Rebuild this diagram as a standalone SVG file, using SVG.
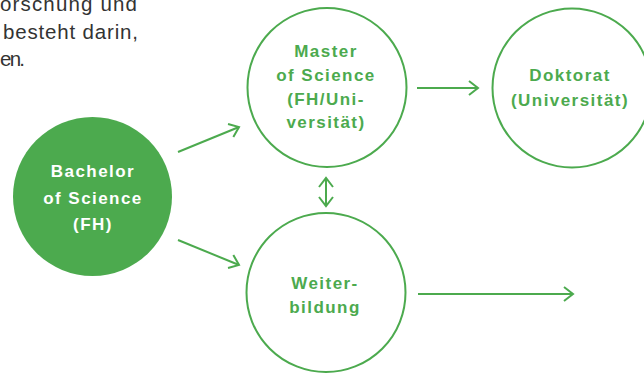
<svg xmlns="http://www.w3.org/2000/svg" width="644" height="373" viewBox="0 0 644 373">
<defs>
<style>
.intro{font-family:"Liberation Sans",Arial,sans-serif;font-size:20.5px;fill:#333333}
.lbl{font-family:"Liberation Sans",Arial,sans-serif;font-size:17px;font-weight:bold;letter-spacing:1.45px;text-anchor:middle;fill:#4caa4e}
.lbl.inv{fill:#ffffff}
.ring{fill:#ffffff;stroke:#4caa4e;stroke-width:2}
.solid{fill:#4caa4e;stroke:none}
.con{fill:none;stroke:#4caa4e;stroke-width:2}
</style>
<marker id="arr" markerUnits="userSpaceOnUse" viewBox="-12 -10 14 20" refX="0" refY="0" markerWidth="14" markerHeight="20" orient="auto-start-reverse">
<path d="M-9,-7 L0,0 L-9,7" fill="none" stroke="#4caa4e" stroke-width="2"/>
</marker>
</defs>
<g id="intro">
<text class="intro" x="0" y="11" textLength="137" lengthAdjust="spacing">orschung und</text>
<text class="intro" x="3" y="39" textLength="135" lengthAdjust="spacing">besteht darin,</text>
<text class="intro" x="0" y="65.5" textLength="25" lengthAdjust="spacing">en.</text>
</g>
<g id="connectors">
<line class="con" x1="178" y1="152" x2="239" y2="127" marker-end="url(#arr)"/>
<line class="con" x1="178" y1="240" x2="239" y2="265" marker-end="url(#arr)"/>
<line class="con" x1="417" y1="88" x2="478" y2="88" marker-end="url(#arr)"/>
<line class="con" x1="326" y1="178" x2="326" y2="206" marker-start="url(#arr)" marker-end="url(#arr)"/>
<line class="con" x1="418" y1="294" x2="573" y2="294" marker-end="url(#arr)"/>
</g>
<g id="bachelor">
<circle class="solid" cx="92.5" cy="196.5" r="79.5"/>
<text class="lbl inv" x="93" y="177">Bachelor</text>
<text class="lbl inv" x="93" y="204">of Science</text>
<text class="lbl inv" x="93" y="230">(FH)</text>
</g>
<g id="master">
<circle class="ring" cx="327" cy="87.5" r="79.5"/>
<text class="lbl" x="326" y="57">Master</text>
<text class="lbl" x="326" y="81">of Science</text>
<text class="lbl" x="326" y="105">(FH/Uni-</text>
<text class="lbl" x="326" y="128">versität)</text>
</g>
<g id="doktorat">
<circle class="ring" cx="572" cy="88" r="79.5"/>
<text class="lbl" x="570" y="81">Doktorat</text>
<text class="lbl" x="570" y="106">(Universität)</text>
</g>
<g id="weiterbildung">
<circle class="ring" cx="326" cy="292.5" r="79.5"/>
<text class="lbl" x="325" y="289">Weiter-</text>
<text class="lbl" x="325" y="313">bildung</text>
</g>
</svg>
